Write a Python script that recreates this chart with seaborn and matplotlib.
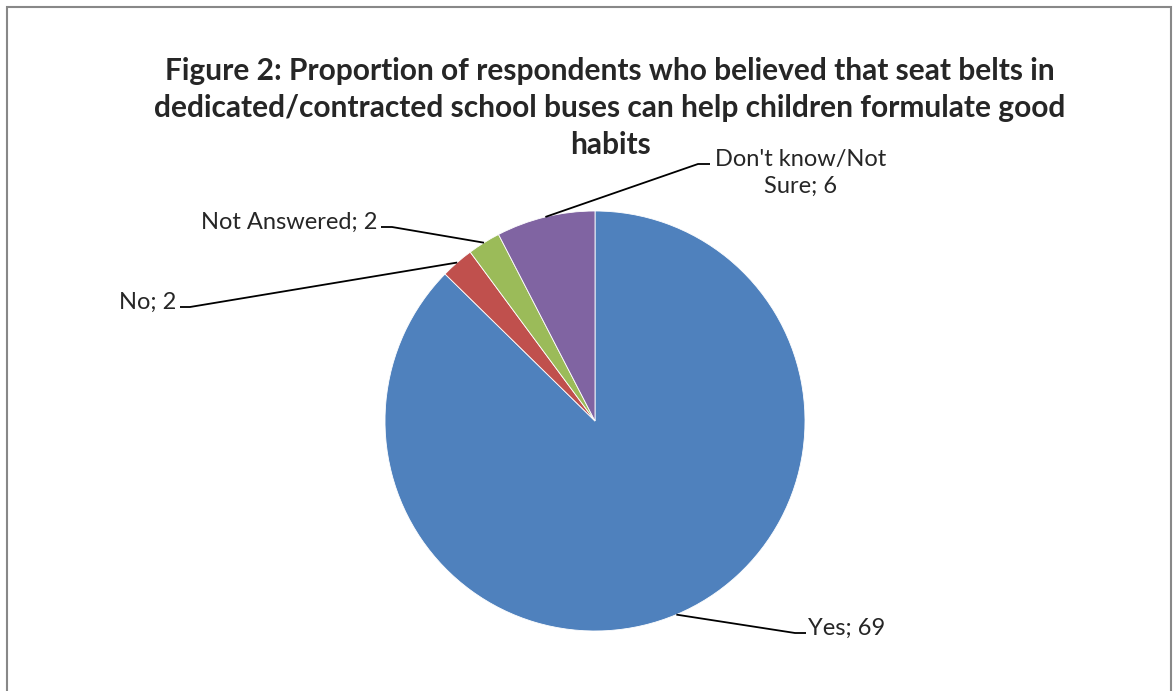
import numpy as np
import seaborn as sns
import matplotlib.pyplot as plt
from matplotlib.patches import Rectangle

categories = ["Yes", "No", "Not Answered", "Don't know/Not\nSure"]
counts = [69, 2, 2, 6]
colors = ["#4F81BD", "#C0504D", "#9BBB59", "#8064A2"]
title_lines = [
    "Figure 2: Proportion of respondents who believed that seat belts in",
    "dedicated/contracted school buses can help children formulate good",
    "habits",
]

sns.set_style("white")
plt.rcParams["font.family"] = ["Lato", "DejaVu Sans"]

W, H = 1173, 691
fig = plt.figure(figsize=(W / 100, H / 100), dpi=100)
ax = fig.add_axes([0, 0, 1, 1])

# pie in pixel units
cx, cy, r = 595, H - 421, 210
wedges, _ = ax.pie(counts, colors=colors, startangle=90, counterclock=False,
                   center=(cx, cy), radius=r, frame=True,
                   wedgeprops=dict(edgecolor="white", linewidth=0.6))
ax.set_xlim(0, W)
ax.set_ylim(0, H)
ax.axis("off")

# label text positions (text anchor, elbow x, side)
label_layout = [
    ((808, H - 628), 795, "left"),
    ((176, H - 302), 190, "right"),
    ((377, H - 222), 392, "right"),
    ((712, H - 164), 698, "left"),
]

for w, cat, n, (tpos, ex, side) in zip(wedges, categories, counts, label_layout):
    ang = np.deg2rad((w.theta1 + w.theta2) / 2)
    px, py = cx + r * np.cos(ang), cy + r * np.sin(ang)
    tx, ty = tpos
    if cat.startswith("Don't"):
        ly = ty
        ax.text(801, H - 173, f"{cat}; {n}", ha="center", va="center",
                fontsize=17, linespacing=1.3)
    else:
        ly = ty - 5
        ax.text(tx, ty, f"{cat}; {n}", ha=side, va="center", fontsize=17)
    end_x = tx - 2 if side == "left" else tx + 4
    ax.plot([px, ex, end_x], [py, ly, ly],
            color="black", lw=1.3, solid_capstyle="butt")

# title, one line at a time
for i, line in enumerate(title_lines):
    ax.text(610, H - 71 - 37 * i, line, ha="center", va="center",
            fontsize=21.5, fontweight="bold")

fig.patches.append(Rectangle((7, -5), W - 9, H - 2, transform=ax.transData,
                             fill=False, edgecolor="#888888", lw=1.5))

fig.savefig("out.png", dpi=100)
